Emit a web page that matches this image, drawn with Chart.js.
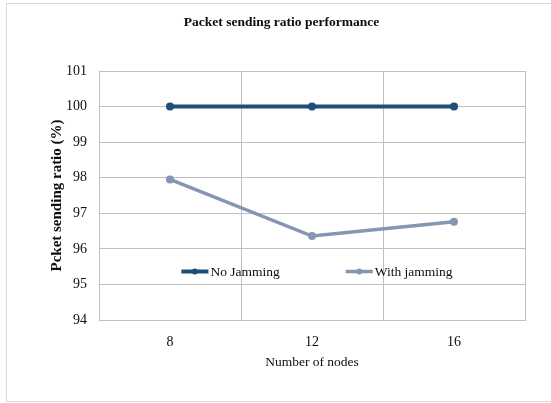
<!DOCTYPE html>
<html>
<head>
<meta charset="utf-8">
<style>
  html, body { margin: 0; padding: 0; background: #ffffff; }
  #wrap { width: 551px; height: 403px; }
</style>
<script src="https://cdn.jsdelivr.net/npm/chart.js@4/dist/chart.umd.min.js"></script>
</head>
<body>
<div id="wrap"><canvas id="chart" width="551" height="403"></canvas></div>
<script>
// Packet sending ratio (%) by network size
const nodeCounts = ['8', '12', '16'];
const noJamming = [100, 100, 100];
const withJamming = [97.95, 96.36, 96.76];
const seriesNames = ['No Jamming', 'With jamming'];
const yMin = 94;
const yMax = 101;

const SERIF = '"Liberation Serif", "Times New Roman", serif';
const GRID = '#bfbfbf';
const INK = '#0d0d0d';

// light outer frame around the whole figure
const framePlugin = {
  id: 'frame',
  beforeDraw(chart) {
    const ctx = chart.ctx;
    ctx.save();
    ctx.fillStyle = '#ffffff';
    ctx.fillRect(0, 0, chart.width, chart.height);
    ctx.strokeStyle = '#d9d9d9';
    ctx.lineWidth = 1;
    ctx.strokeRect(6.5, 3.5, 600, 398);
    ctx.restore();
  }
};

// legend drawn inside the plot area, below the lines
const innerLegend = {
  id: 'innerLegend',
  afterDatasetsDraw(chart) {
    const ctx = chart.ctx;
    const area = chart.chartArea;
    const sets = chart.data.datasets;
    const markerW = 27, gapText = 2, gapItem = 66;
    ctx.save();
    ctx.font = '13.5px ' + SERIF;
    const widths = sets.map(d => ctx.measureText(d.label).width);
    let total = 0;
    sets.forEach((d, i) => { total += markerW + gapText + widths[i]; });
    total += gapItem * (sets.length - 1);
    let x = (area.left + area.right) / 2 + 5 - total / 2;
    const y = area.top + 200.5;
    sets.forEach((d, i) => {
      ctx.strokeStyle = d.borderColor;
      ctx.lineWidth = d.borderWidth;
      ctx.beginPath();
      ctx.moveTo(x, y);
      ctx.lineTo(x + markerW, y);
      ctx.stroke();
      ctx.fillStyle = d.pointBackgroundColor;
      ctx.beginPath();
      ctx.arc(x + markerW / 2, y, 3, 0, Math.PI * 2);
      ctx.fill();
      ctx.fillStyle = INK;
      ctx.textBaseline = 'middle';
      ctx.textAlign = 'left';
      ctx.fillText(d.label, x + markerW + gapText, y + 1);
      x += markerW + gapText + widths[i] + gapItem;
    });
    ctx.restore();
  }
};

new Chart(document.getElementById('chart'), {
  type: 'line',
  data: {
    labels: nodeCounts,
    datasets: [
      {
        label: seriesNames[0],
        data: noJamming,
        borderColor: '#1f4e79',
        backgroundColor: '#1f4e79',
        pointBackgroundColor: '#1f4e79',
        pointBorderColor: '#1f4e79',
        borderWidth: 4,
        pointRadius: 4,
        pointBorderWidth: 0,
        tension: 0
      },
      {
        label: seriesNames[1],
        data: withJamming,
        borderColor: '#8496b0',
        backgroundColor: '#8496b0',
        pointBackgroundColor: '#8496b0',
        pointBorderColor: '#8496b0',
        borderWidth: 3.5,
        pointRadius: 4,
        pointBorderWidth: 0,
        tension: 0
      }
    ]
  },
  options: {
    responsive: false,
    animation: false,
    events: [],
    layout: { padding: { left: 38, right: 26, top: 0, bottom: 0 } },
    plugins: {
      legend: { display: false },
      tooltip: { enabled: false },
      title: {
        display: true,
        text: 'Packet sending ratio performance',
        color: INK,
        font: { family: SERIF, size: 13.5, weight: 'bold' },
        padding: { top: 14.9, bottom: 39.9 }
      }
    },
    scales: {
      x: {
        type: 'category',
        offset: true,
        grid: { offset: true, color: GRID, lineWidth: 1, drawTicks: false },
        border: { display: true, color: GRID, width: 1 },
        ticks: { color: INK, font: { family: SERIF, size: 14 }, padding: 13.6, maxRotation: 0 },
        title: {
          display: true,
          text: 'Number of nodes',
          color: INK,
          font: { family: SERIF, size: 13.5 },
          padding: { top: 0, bottom: 32.4 }
        },
        afterFit(scale) { scale.height = 83; }
      },
      y: {
        min: yMin,
        max: yMax,
        grid: { color: GRID, lineWidth: 1, drawTicks: false },
        border: { display: true, color: GRID, width: 1 },
        ticks: { stepSize: 1, color: INK, font: { family: SERIF, size: 14 }, padding: 12 },
        title: {
          display: true,
          text: 'Pcket sending ratio (%)',
          color: INK,
          font: { family: SERIF, size: 15, weight: 'bold' },
          padding: { top: 10.5, bottom: 0 }
        },
        afterFit(scale) { scale.width = 61; }
      }
    }
  },
  plugins: [framePlugin, innerLegend]
});
</script>
</body>
</html>
